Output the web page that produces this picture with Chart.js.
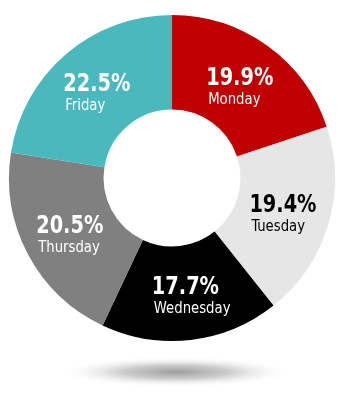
<!DOCTYPE html>
<html>
<head>
<meta charset="utf-8">
<script src="https://cdn.jsdelivr.net/npm/chart.js@4/dist/chart.umd.min.js"></script>
<style>
html,body{margin:0;padding:0;background:#fff;}
#wrap{position:relative;width:350px;height:394px;}
</style>
</head>
<body>
<div id="wrap"><canvas id="c" width="350" height="394"></canvas></div>
<script>
const categories = ["Monday", "Tuesday", "Wednesday", "Thursday", "Friday"];
const values = [19.9, 19.4, 17.7, 20.5, 22.5];
const colors = ["#C00000", "#E6E6E6", "#000000", "#808080", "#49B9BD"];
const textColors = ["#FFFFFF", "#000000", "#FFFFFF", "#FFFFFF", "#FFFFFF"];

const shadowPlugin = {
  id: 'shadow',
  beforeDatasetsDraw(chart) {
    const ctx = chart.ctx;
    const meta = chart.getDatasetMeta(0);
    const arc = meta.data[0];
    const cx = arc.x + 4, cy = arc.y + arc.outerRadius + 31;
    ctx.save();
    ctx.translate(cx, cy);
    ctx.scale(1, 0.13);
    const r = 118;
    const g = ctx.createRadialGradient(0, 0, 0, 0, 0, r);
    g.addColorStop(0, 'rgba(140,140,140,0.85)');
    g.addColorStop(0.45, 'rgba(170,170,170,0.6)');
    g.addColorStop(1, 'rgba(255,255,255,0)');
    ctx.fillStyle = g;
    ctx.beginPath();
    ctx.arc(0, 0, r, 0, Math.PI * 2);
    ctx.fill();
    ctx.restore();
  }
};

const labelPlugin = {
  id: 'sliceLabels',
  afterDatasetsDraw(chart) {
    const ctx = chart.ctx;
    const meta = chart.getDatasetMeta(0);
    const sx = 0.86;
    meta.data.forEach((arc, i) => {
      const p = arc.tooltipPosition();
      const pct = values[i].toFixed(1) + '%';
      ctx.save();
      ctx.fillStyle = textColors[i];
      ctx.textBaseline = 'alphabetic';
      ctx.font = 'bold 25px "DejaVu Sans Condensed", "DejaVu Sans", sans-serif';
      const w = ctx.measureText(pct).width * sx;
      const left = p.x - w / 2;
      ctx.save();
      ctx.translate(left, p.y + 1);
      ctx.scale(sx, 1);
      ctx.textAlign = 'left';
      ctx.fillText(pct, 0, 0);
      ctx.restore();
      ctx.save();
      ctx.font = '16px "DejaVu Sans Condensed", "DejaVu Sans", sans-serif';
      ctx.translate(left + 2, p.y + 20);
      ctx.scale(0.92, 1);
      ctx.textAlign = 'left';
      ctx.fillText(categories[i], 0, 0);
      ctx.restore();
      ctx.restore();
    });
  }
};

new Chart(document.getElementById('c'), {
  type: 'doughnut',
  data: {
    labels: categories,
    datasets: [{
      data: values,
      backgroundColor: colors,
      borderWidth: 0,
      hoverOffset: 0,
      offset: 0
    }]
  },
  options: {
    responsive: false,
    animation: false,
    events: [],
    cutout: '42%',
    rotation: 0,
    layout: { padding: { left: 9, right: 15, top: 15, bottom: 53 } },
    plugins: {
      legend: { display: false },
      tooltip: { enabled: false }
    }
  },
  plugins: [shadowPlugin, labelPlugin]
});
</script>
</body>
</html>
